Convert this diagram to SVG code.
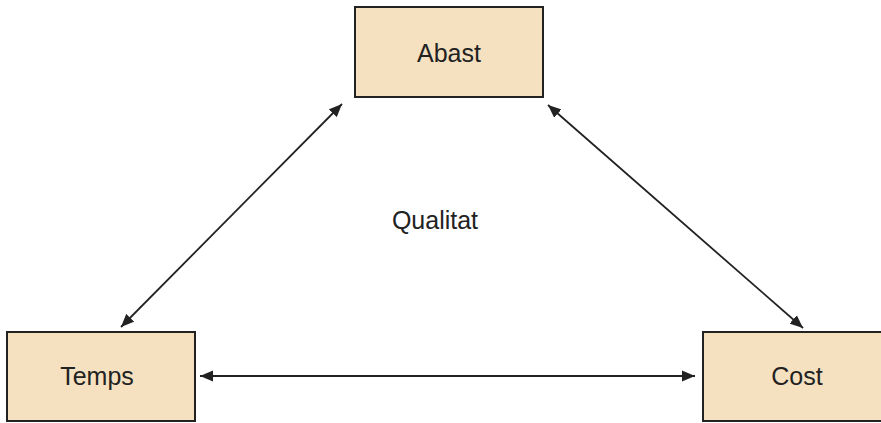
<svg xmlns="http://www.w3.org/2000/svg" width="881" height="423" viewBox="0 0 881 423">
<style>
.box{fill:#f5e1c0;stroke:#222;stroke-width:2}
.lbl{font-family:"Liberation Sans",Arial,sans-serif;font-size:25px;fill:#222;text-anchor:middle}
.conn{stroke:#222;stroke-width:1.8;fill:none;marker-start:url(#ah);marker-end:url(#ah)}
</style>
<defs>
<marker id="ah" markerUnits="userSpaceOnUse" markerWidth="14" markerHeight="12" refX="13" refY="5.5" orient="auto-start-reverse" viewBox="0 0 14 11">
<path d="M0,0 L13,5.5 L0,11 z" fill="#222"/>
</marker>
</defs>
<rect width="881" height="423" fill="#fff"/>
<g id="abast"><rect class="box" x="355" y="7" width="188" height="90"/><text class="lbl" x="449" y="62">Abast</text></g>
<g id="temps"><rect class="box" x="7" y="332" width="188" height="89"/><text class="lbl" x="97" y="385">Temps</text></g>
<g id="cost"><rect class="box" x="703" y="332" width="188" height="89"/><text class="lbl" x="797" y="385">Cost</text></g>
<g id="qualitat"><text class="lbl" x="435" y="229">Qualitat</text></g>
<g id="connectors">
<line class="conn" x1="342" y1="104" x2="121" y2="327"/>
<line class="conn" x1="548" y1="105" x2="803" y2="328"/>
<line class="conn" x1="200" y1="376" x2="695" y2="376"/>
</g>
</svg>
